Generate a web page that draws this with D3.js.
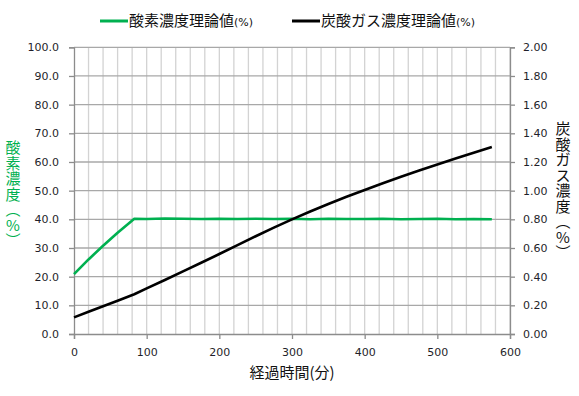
<!DOCTYPE html>
<html>
<head>
<meta charset="utf-8">
<script src="https://cdn.jsdelivr.net/npm/d3@7"></script>
<style>
body { margin: 0; background: #fff; }
svg { display: block; }
</style>
</head>
<body>
<svg id="chart" width="579" height="396"></svg>
<script>
// elapsed minutes and theoretical concentrations
var timeMin = [0, 20, 40, 60, 83, 100, 125, 150, 175, 200, 225, 250, 275, 300, 325, 350, 375, 400, 425, 450, 475, 500, 525, 550, 575];
var oxygen = [20.9, 26.0, 30.8, 35.3, 40.2, 40.1, 40.3, 40.2, 40.1, 40.2, 40.1, 40.2, 40.1, 40.2, 40.0, 40.2, 40.1, 40.1, 40.2, 40.0, 40.1, 40.2, 40.0, 40.1, 40.0];
var co2 = [0.116, 0.155, 0.194, 0.232, 0.277, 0.318, 0.377, 0.437, 0.497, 0.558, 0.620, 0.682, 0.742, 0.800, 0.855, 0.907, 0.957, 1.005, 1.052, 1.097, 1.140, 1.182, 1.224, 1.265, 1.305];

var xTicks = [0, 100, 200, 300, 400, 500, 600];
var leftTicks = [0, 10, 20, 30, 40, 50, 60, 70, 80, 90, 100];
var rightTicks = [0, 0.2, 0.4, 0.6, 0.8, 1.0, 1.2, 1.4, 1.6, 1.8, 2.0];

var legendNames = ["酸素濃度理論値", "炭酸ガス濃度理論値"];
var leftTitle = ["酸", "素", "濃", "度", "︵", "%", "︶"];
var rightTitle = ["炭", "酸", "ガ", "ス", "濃", "度", "︵", "%", "︶"];
var xTitle = "経過時間(分)";

var green = "#00b050";
var numFont = "'DejaVu Sans', sans-serif";
var jpFont = "'Noto Sans CJK JP', sans-serif";

var svg = d3.select("#chart");

var x = d3.scaleLinear().domain([0, 600]).range([74, 510]);
var yL = d3.scaleLinear().domain([0, 100]).range([334, 47.3]);
var yR = d3.scaleLinear().domain([0, 2]).range([334, 47.3]);

//minor vertical grid every 20 minutes
svg.append("g")
    .selectAll("line")
    .data(d3.range(20, 601, 20))
    .enter()
    .append("line")
    .attr("x1", function(d) { return x(d); })
    .attr("x2", function(d) { return x(d); })
    .attr("y1", yL(0))
    .attr("y2", yL(100))
    .attr("stroke", "#d3d3d3")
    .attr("stroke-width", 1.3);

//horizontal grid
svg.append("g")
    .selectAll("line")
    .data(leftTicks.slice(1))
    .enter()
    .append("line")
    .attr("x1", x(0))
    .attr("x2", x(600))
    .attr("y1", function(d) { return yL(d); })
    .attr("y2", function(d) { return yL(d); })
    .attr("stroke", "#a8a8a8")
    .attr("stroke-width", 1.3);

//axes
var axisColor = "#8c8c8c";
var gLeft = svg.append("g")
    .attr("transform", "translate(" + x(0) + ",0)")
    .call(d3.axisLeft(yL).tickValues(leftTicks).tickFormat(d3.format(".1f")).tickSizeOuter(0).tickSize(5).tickPadding(10));
var gRight = svg.append("g")
    .attr("transform", "translate(" + x(600) + ",0)")
    .call(d3.axisRight(yR).tickValues(rightTicks).tickFormat(d3.format(".2f")).tickSizeOuter(0).tickSize(5).tickPadding(8));
var gBottom = svg.append("g")
    .attr("transform", "translate(0," + yL(0) + ")")
    .call(d3.axisBottom(x).tickValues(xTicks).tickFormat(d3.format("d")).tickSizeOuter(0).tickSize(5).tickPadding(9));

[gLeft, gRight, gBottom].forEach(function(g) {
    g.selectAll(".domain").attr("stroke", axisColor).attr("stroke-width", 1.3);
    g.selectAll(".tick line").attr("stroke", axisColor).attr("stroke-width", 1.3);
    g.selectAll("text")
        .attr("fill", "#1f1f2a")
        .style("font-family", numFont)
        .style("font-size", "11px");
});

//series lines
var oxLine = d3.line()
    .x(function(d, i) { return x(timeMin[i]); })
    .y(function(d) { return yL(d); });
var co2Line = d3.line()
    .x(function(d, i) { return x(timeMin[i]); })
    .y(function(d) { return yR(d); });

svg.append("path")
    .datum(oxygen)
    .attr("d", oxLine)
    .attr("fill", "none")
    .attr("stroke", green)
    .attr("stroke-width", 2.6)
    .attr("stroke-linejoin", "round");

svg.append("path")
    .datum(co2)
    .attr("d", co2Line)
    .attr("fill", "none")
    .attr("stroke", "#000")
    .attr("stroke-width", 2.6)
    .attr("stroke-linejoin", "round");

//legend
var legend = [
    { name: legendNames[0], color: green, x: 100 },
    { name: legendNames[1], color: "#000", x: 292 }
];
var lg = svg.append("g").selectAll("g")
    .data(legend)
    .enter()
    .append("g")
    .attr("transform", function(d) { return "translate(" + d.x + ",21)"; });
lg.append("line")
    .attr("x1", 0)
    .attr("x2", 28)
    .attr("stroke", function(d) { return d.color; })
    .attr("stroke-width", 3);
var lt = lg.append("text")
    .attr("x", 29)
    .attr("y", 5)
    .attr("fill", "#111");
lt.append("tspan")
    .style("font-family", jpFont)
    .style("font-size", "15px")
    .text(function(d) { return d.name; });
lt.append("tspan")
    .style("font-family", numFont)
    .style("font-size", "11px")
    .text("(%)");

//vertical axis titles, one glyph per row
svg.append("text")
    .attr("fill", green)
    .style("font-family", jpFont)
    .style("font-size", "15px")
    .attr("text-anchor", "middle")
    .selectAll("tspan")
    .data(leftTitle)
    .enter()
    .append("tspan")
    .attr("x", 13)
    .attr("y", function(d, i) { return 153 + i * 15.5; })
    .text(function(d) { return d; });

svg.append("text")
    .attr("fill", "#111")
    .style("font-family", jpFont)
    .style("font-size", "15px")
    .attr("text-anchor", "middle")
    .selectAll("tspan")
    .data(rightTitle)
    .enter()
    .append("tspan")
    .attr("x", 563)
    .attr("y", function(d, i) { return 134 + i * 15.5; })
    .text(function(d) { return d; });

svg.append("text")
    .attr("x", 292)
    .attr("y", 378)
    .attr("text-anchor", "middle")
    .attr("fill", "#111")
    .style("font-family", jpFont)
    .style("font-size", "15px")
    .text(xTitle);
</script>
</body>
</html>
